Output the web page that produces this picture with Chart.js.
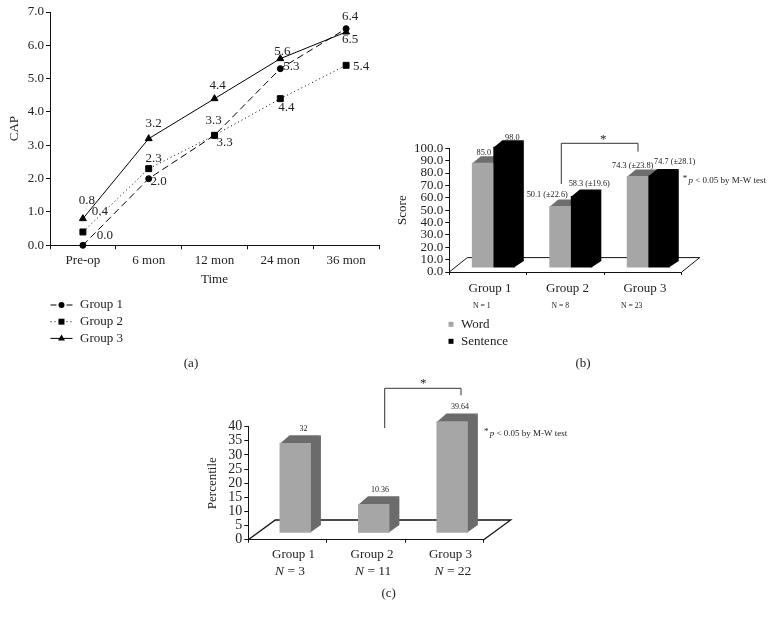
<!DOCTYPE html>
<html>
<head>
<meta charset="utf-8">
<title>CAP, score and percentile charts</title>
<script src="https://cdn.jsdelivr.net/npm/chart.js@4"></script>
<style>
    html, body { margin: 0; padding: 0; background: #fff; }
    body { position: relative; width: 783px; height: 619px; overflow: hidden; }
    canvas { position: absolute; }
</style>
</head>
<body>
<canvas id="capChart" width="400" height="385" style="left:0;top:0"></canvas>
<canvas id="scoreChart" width="393" height="255" style="left:390px;top:120px"></canvas>
<canvas id="percentileChart" width="400" height="240" style="left:200px;top:370px"></canvas>
<script>
// (a) CAP
const capLabels = ['Pre-op', '6 mon', '12 mon', '24 mon', '36 mon'];
const capGroup1 = [0.0, 2.0, 3.3, 5.3, 6.5];
const capGroup2 = [0.4, 2.3, 3.3, 4.4, 5.4];
const capGroup3 = [0.8, 3.2, 4.4, 5.6, 6.4];

// (b) word / sentence score
const scoreLabels = ['Group 1', 'Group 2', 'Group 3'];
const scoreN = ['N = 1', 'N = 8', 'N = 23'];
const wordScore = [85.0, 50.1, 74.3];
const sentenceScore = [98.0, 58.3, 74.7];
const wordText = ['85.0', '50.1 (±22.6)', '74.3 (±23.8)'];
const sentenceText = ['98.0', '58.3 (±19.6)', '74.7 (±28.1)'];

// (c) percentile
const percentileLabels = ['Group 1', 'Group 2', 'Group 3'];
const percentileN = ['3', '11', '22'];
const percentileValues = [32, 10.36, 39.64];

const SERIF = '"Liberation Serif", serif';
const INK = '#222';
const font = (size, style) => (style ? style + ' ' : '') + size + 'px ' + SERIF;

function text(ctx, str, x, y, size, align, style) {
    ctx.font = font(size, style);
    ctx.fillStyle = INK;
    ctx.textAlign = align || 'center';
    ctx.textBaseline = 'middle';
    ctx.fillText(str, x, y);
}

function polyline(ctx, pts, color, width) {
    ctx.save();
    ctx.strokeStyle = color;
    ctx.lineWidth = width || 1;
    ctx.beginPath();
    pts.forEach((p, i) => (i ? ctx.lineTo(p[0], p[1]) : ctx.moveTo(p[0], p[1])));
    ctx.stroke();
    ctx.restore();
}

function pNote(ctx, x, y, size) {
    text(ctx, '*', x, y - 2, size, 'left');
    let cx = x + ctx.measureText('* ').width - 1;
    text(ctx, 'p', cx, y, size, 'left', 'italic');
    cx += ctx.measureText('p').width;
    text(ctx, ' < 0.05 by M-W test', cx, y, size, 'left');
}

function polygon(ctx, pts, color) {
    ctx.fillStyle = color;
    ctx.beginPath();
    pts.forEach((p, i) => (i ? ctx.lineTo(p[0], p[1]) : ctx.moveTo(p[0], p[1])));
    ctx.closePath();
    ctx.fill();
}

// fake 3D: floor under the axis, side and top faces behind each bar.
// The fronts come from chart.js, so all the depth faces go down first,
// running 1px under the front so no seam shows.
const bars3d = {
    id: 'bars3d',
    beforeDatasetsDraw(chart, args, o) {
        const ctx = chart.ctx, a = chart.chartArea;
        polyline(ctx, [
            [a.left, a.bottom],
            [a.left + o.floorX, a.bottom - o.floorY],
            [a.right + o.floorX, a.bottom - o.floorY],
            [a.right, a.bottom]
        ], '#111', o.floorWidth);
        ctx.save();
        ctx.translate(o.shiftX, o.shiftY);
        chart.data.datasets.forEach((ds, i) => {
            chart.getDatasetMeta(i).data.forEach(bar => {
                const r = bar.x + bar.width / 2, l = bar.x - bar.width / 2;
                polygon(ctx, [[r - 1, bar.y], [r + o.depthX, bar.y - o.depthY], [r + o.depthX, bar.base - o.depthY], [r - 1, bar.base]], ds.depthColor);
                polygon(ctx, [[l, bar.y + 1], [l + o.depthX, bar.y - o.depthY], [r + o.depthX, bar.y - o.depthY], [r, bar.y + 1]], ds.depthColor);
            });
        });
    },
    afterDatasetsDraw(chart) {
        chart.ctx.restore();
    }
};

function markerSample(ctx, ds, x, y, dash) {
    ctx.save();
    ctx.strokeStyle = '#000';
    ctx.fillStyle = '#000';
    ctx.lineWidth = 1;
    ctx.setLineDash(dash);
    ctx.beginPath();
    ctx.moveTo(x - 11, y);
    ctx.lineTo(x + 11, y);
    ctx.stroke();
    ctx.setLineDash([]);
    Chart.helpers.drawPoint(ctx, { pointStyle: ds.pointStyle, radius: ds.pointRadius, rotation: 0, borderWidth: 0 }, x, y);
    ctx.restore();
}

// legend samples are too short for the line dash, so they get their own
const sampleDashes = [[6, 10], [1, 3], []];

// label nudges (dx, dy from the marker), placed by hand to dodge the lines
const capNudges = [
    [[22, -10], [10, 3], [10, 7], [11, -2], [4, 11]],
    [[17, -20], [5, -10], [-1, -15], [6, 9], [15, 1]],
    [[4, -18], [5, -15], [3, -13], [2, -7], [4, -15]]
];

const capExtras = {
    id: 'capExtras',
    afterDraw(chart) {
        const ctx = chart.ctx;
        chart.data.datasets.forEach((ds, i) => {
            chart.getDatasetMeta(i).data.forEach((pt, j) => {
                text(ctx, ds.data[j].toFixed(1), pt.x + capNudges[i][j][0], pt.y + capNudges[i][j][1], 13);
            });
            const rowY = 305 + i * 16.7;
            markerSample(ctx, ds, 61.5, rowY, sampleDashes[i]);
            text(ctx, ds.label, 80, rowY, 13, 'left');
        });
        text(ctx, '(a)', 191, 364, 13);
    }
};

new Chart(document.getElementById('capChart'), {
    type: 'line',
    data: {
        labels: capLabels,
        datasets: [
            { label: 'Group 1', data: capGroup1, borderDash: [7, 4], pointStyle: 'circle', pointRadius: 3 },
            { label: 'Group 2', data: capGroup2, borderDash: [1, 3], pointStyle: 'rect', pointRadius: 4.2 },
            { label: 'Group 3', data: capGroup3, pointStyle: 'triangle', pointRadius: 4 }
        ].map(ds => Object.assign(ds, {
            borderColor: '#000', backgroundColor: '#000', pointBackgroundColor: '#000',
            borderWidth: 1, tension: 0, clip: false
        }))
    },
    options: {
        responsive: false,
        animation: false,
        layout: { padding: { top: 12, right: 21, bottom: 97.7, left: 0 } },
        plugins: { legend: { display: false }, tooltip: { enabled: false } },
        scales: {
            x: {
                offset: true,
                afterFit: s => { s.height = 42; },
                grid: { offset: true, drawOnChartArea: false, tickLength: 4, color: '#111' },
                border: { color: '#111' },
                ticks: { color: INK, font: { family: SERIF, size: 13 }, padding: 3, maxRotation: 0 },
                title: { display: true, text: 'Time', color: INK, font: { family: SERIF, size: 13 }, padding: 0 }
            },
            y: {
                min: 0, max: 7,
                afterFit: s => { s.width = 50; },
                grid: { drawOnChartArea: false, tickLength: 4, color: '#111' },
                border: { color: '#111' },
                ticks: { stepSize: 1, color: INK, font: { family: SERIF, size: 13 }, padding: 2, callback: v => v.toFixed(1) },
                title: { display: true, text: 'CAP', color: INK, font: { family: SERIF, size: 13 }, padding: { top: 7, bottom: 0 } }
            }
        }
    },
    plugins: [capExtras]
});

// label nudges from the raw bar tops
const wordNudges = [[6.5, -14], [-7.5, -15.6], [0.5, -14.3]];
const sentenceNudges = [[13.5, -13], [13, -16.5], [21, -17.5]];

const scoreExtras = {
    id: 'scoreExtras',
    afterDraw(chart) {
        const ctx = chart.ctx;
        const word = chart.getDatasetMeta(0).data, sent = chart.getDatasetMeta(1).data;
        word.forEach((b, i) => text(ctx, wordText[i], b.x + wordNudges[i][0], b.y + wordNudges[i][1], 8.3));
        sent.forEach((b, i) => text(ctx, sentenceText[i], b.x + sentenceNudges[i][0], b.y + sentenceNudges[i][1], 8.3));
        // N row under the axis
        scoreN.forEach((n, i) => text(ctx, n, [91.7, 170.3, 241.7][i], 185.7, 7.7));
        // bracket
        polyline(ctx, [[171.3, 64], [171.3, 23.3], [248, 23.3], [248, 31.7]], '#333');
        text(ctx, '*', 213.3, 20, 13);
        pNote(ctx, 292.7, 60.3, 9);
        // legend
        chart.data.datasets.forEach((ds, i) => {
            const y = 204.3 + i * 17;
            ctx.fillStyle = ds.backgroundColor;
            ctx.fillRect(58.5, y - 2.5, 5, 5);
            text(ctx, ds.label, 71, y, 13, 'left');
        });
        text(ctx, '(b)', 193, 243.7, 13);
    }
};

new Chart(document.getElementById('scoreChart'), {
    type: 'bar',
    data: {
        labels: scoreLabels,
        datasets: [
            { label: 'Word', data: wordScore, backgroundColor: '#a6a6a6', depthColor: '#6e6e6e' },
            { label: 'Sentence', data: sentenceScore, backgroundColor: '#000', depthColor: '#000' }
        ].map(ds => Object.assign(ds, { categoryPercentage: 0.555, barPercentage: 1, clip: false }))
    },
    options: {
        responsive: false,
        animation: false,
        layout: { padding: { top: 28.3, right: 101.3, bottom: 75, left: 0 } },
        plugins: {
            legend: { display: false },
            tooltip: { enabled: false },
            bars3d: { floorX: 18, floorY: 14.4, shiftX: 5.3, shiftY: -4, depthX: 9, depthY: 6.5, floorWidth: 1 }
        },
        scales: {
            x: {
                afterFit: s => { s.height = 28; },
                grid: { offset: true, drawOnChartArea: false, tickLength: 3, color: '#111' },
                border: { color: '#111' },
                ticks: { color: INK, font: { family: SERIF, size: 13 }, padding: 6, maxRotation: 0, labelOffset: 2 }
            },
            y: {
                min: 0, max: 100,
                afterFit: s => { s.width = 59.3; },
                grid: { drawOnChartArea: false, tickLength: 4, color: '#111' },
                border: { color: '#111' },
                ticks: { stepSize: 10, autoSkip: false, color: INK, font: { family: SERIF, size: 13 }, padding: 2, callback: v => v.toFixed(1) },
                title: { display: true, text: 'Score', color: INK, font: { family: SERIF, size: 13 }, padding: { top: 5, bottom: 0 } }
            }
        }
    },
    plugins: [bars3d, scoreExtras]
});

const percentileNudges = [[16, -20.3], [14, -21], [15.6, -21]];

const percentileExtras = {
    id: 'percentileExtras',
    afterDraw(chart) {
        const ctx = chart.ctx;
        chart.getDatasetMeta(0).data.forEach((b, i) => {
            text(ctx, String(percentileValues[i]), b.x + percentileNudges[i][0], b.y + percentileNudges[i][1], 8);
            // N row, italic N like the original
            const x = [75, 155, 234.5][i], y = 201;
            text(ctx, 'N', x, y, 13.5, 'left', 'italic');
            const w = ctx.measureText('N').width;
            text(ctx, ' = ' + percentileN[i], x + w, y, 13.5, 'left');
        });
        polyline(ctx, [[184.7, 58], [184.7, 18.3], [261, 18.3], [261, 25.3]], '#333');
        text(ctx, '*', 223.3, 14, 13);
        pNote(ctx, 284, 63.7, 9);
        text(ctx, '(c)', 188.7, 223.7, 13);
    }
};

new Chart(document.getElementById('percentileChart'), {
    type: 'bar',
    data: {
        labels: percentileLabels,
        datasets: [{
            label: 'Percentile', data: percentileValues, backgroundColor: '#a6a6a6', depthColor: '#6b6b6b',
            categoryPercentage: 0.4, barPercentage: 1, clip: false
        }]
    },
    options: {
        responsive: false,
        animation: false,
        layout: { padding: { top: 56.7, right: 116.3, bottom: 40, left: 0 } },
        plugins: {
            legend: { display: false },
            tooltip: { enabled: false },
            bars3d: { floorX: 27, floorY: 19.7, shiftX: 7.7, shiftY: -6.4, depthX: 10, depthY: 7.7, floorWidth: 1.3 }
        },
        scales: {
            x: {
                afterFit: s => { s.height = 30.3; },
                grid: { offset: true, drawOnChartArea: false, tickLength: 3, color: '#111' },
                border: { color: '#111' },
                ticks: { color: INK, font: { family: SERIF, size: 13 }, padding: 4, maxRotation: 0, labelOffset: 6 }
            },
            y: {
                min: 0, max: 40,
                afterFit: s => { s.width = 48.3; },
                grid: { drawOnChartArea: false, tickLength: 4, color: '#111' },
                border: { color: '#111' },
                ticks: { stepSize: 5, autoSkip: false, color: INK, font: { family: SERIF, size: 14 }, padding: 2 },
                title: { display: true, text: 'Percentile', color: INK, font: { family: SERIF, size: 13 }, padding: { top: 5, bottom: 0 } }
            }
        }
    },
    plugins: [bars3d, percentileExtras]
});
</script>
</body>
</html>
